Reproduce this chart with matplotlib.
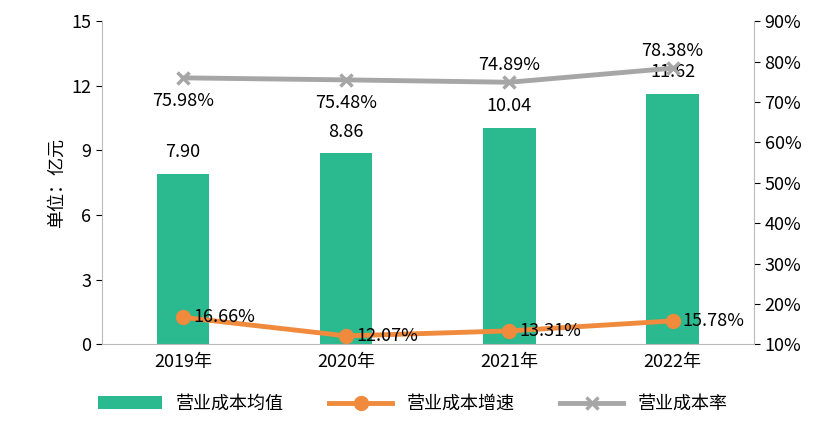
import matplotlib
matplotlib.use("Agg")
import matplotlib.pyplot as plt
from matplotlib.ticker import FuncFormatter

plt.rcParams['font.family'] = ['Noto Sans CJK SC', 'DejaVu Sans']

years = ["2019年", "2020年", "2021年", "2022年"]
cost_avg = [7.90, 8.86, 10.04, 11.62]
cost_growth = [16.66, 12.07, 13.31, 15.78]
cost_rate = [75.98, 75.48, 74.89, 78.38]

fig = plt.figure(figsize=(8.26, 4.25), dpi=100)
ax = fig.add_axes([0.123, 0.19, 0.79, 0.76])
x = range(len(years))
bars = ax.bar(x, cost_avg, width=0.32, color="#2BB98F", label="营业成本均值", zorder=2)
ax.set_ylim(0, 15)
ax.set_yticks(range(0, 16, 3))
ax.set_xlim(-0.5, 3.5)
ax.set_xticks(list(x))
ax.set_xticklabels(years, fontsize=13)
ax.tick_params(axis='y', labelsize=13, length=4)
ax.tick_params(axis='x', length=0, pad=6)
ax.set_ylabel("单位：亿元", fontsize=13)
for s in ["top", "right"]:
    ax.spines[s].set_visible(False)
ax.spines["bottom"].set_color("#bbbbbb")
ax.spines["left"].set_color("#bbbbbb")
for i, v in enumerate(cost_avg):
    ax.text(i, v + 0.6, f"{v:.2f}", ha="center", va="bottom", fontsize=13)

ax2 = ax.twinx()
ax2.set_ylim(10, 90)
ax2.set_yticks(range(10, 91, 10))
ax2.yaxis.set_major_formatter(FuncFormatter(lambda v, p: f"{int(v)}%"))
ax2.tick_params(axis='y', labelsize=13, length=4)
for s in ["top", "left", "bottom"]:
    ax2.spines[s].set_visible(False)
ax2.spines["right"].set_color("#bbbbbb")
l1, = ax2.plot(x, cost_growth, color="#F08A3C", lw=3.5, marker="o", ms=10, label="营业成本增速")
l2, = ax2.plot(x, cost_rate, color="#A6A6A6", lw=3.5, marker="x", ms=8, mew=2.5, label="营业成本率")
for i, v in enumerate(cost_growth):
    ax2.text(i + 0.06, v, f"{v:.2f}%", ha="left", va="center", fontsize=13)
for i, v in enumerate(cost_rate):
    if i < 2:
        ax2.text(i, v - 3.5, f"{v:.2f}%", ha="center", va="top", fontsize=13)
    else:
        ax2.text(i, v + 2.0, f"{v:.2f}%", ha="center", va="bottom", fontsize=13)

fig.legend(handles=[bars, l1, l2], loc="lower center", ncol=3, frameon=False,
           fontsize=13, bbox_to_anchor=(0.5, -0.01), handlelength=3.5, columnspacing=2.5)
fig.savefig("out.png", dpi=100)
